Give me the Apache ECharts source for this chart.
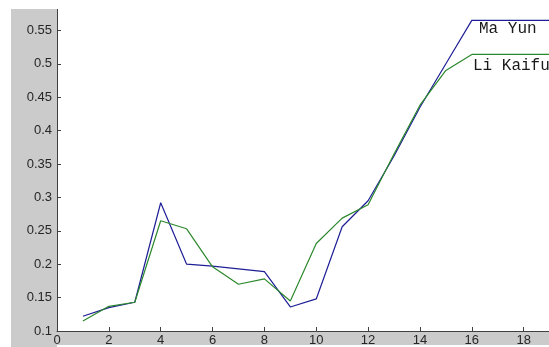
<!DOCTYPE html>
<html>
<head>
<meta charset="utf-8">
<script src="https://cdn.jsdelivr.net/npm/echarts@6/dist/echarts.min.js"></script>
<style>
  html, body { margin: 0; padding: 0; background: #ffffff; overflow: hidden; width: 549px; height: 347px; }
  /* canvas is a little larger than the window so the axes run past the right and top edges */
  #chart { position: absolute; left: 0; top: -10px; width: 600px; height: 357px; }
</style>
</head>
<body>
<div id="chart"></div>
<script>
// Step index along the x axis
const steps = [1, 2, 3, 4, 5, 6, 7, 8, 9, 10, 11, 12, 13, 14, 15, 16, 17, 18, 19, 20];

// Two series of values per step
const maYun = [0.122, 0.135, 0.143, 0.292, 0.200, 0.197, 0.193, 0.189, 0.136, 0.148,
               0.256, 0.295, 0.362, 0.435, 0.500, 0.565, 0.565, 0.565, 0.565, 0.565];
const liKaifu = [0.115, 0.137, 0.143, 0.265, 0.253, 0.196, 0.170, 0.178, 0.145, 0.231,
                 0.269, 0.289, 0.365, 0.438, 0.490, 0.514, 0.514, 0.514, 0.514, 0.514];

const seriesNames = ['Ma Yun', 'Li Kaifu'];

const OFF = 10; // vertical offset of the canvas above the window

const chart = echarts.init(document.getElementById('chart'), null, { renderer: 'canvas' });

const axisFont = { fontFamily: '"Liberation Sans", Arial, sans-serif', fontSize: 13, color: '#262626' };

chart.setOption({
  animation: false,
  backgroundColor: '#ffffff',
  grid: { left: 57, top: OFF - 3, width: 518.5, height: 334, containLabel: false },
  xAxis: {
    type: 'value',
    min: 0, max: 20, interval: 2,
    axisLine: { show: true, lineStyle: { color: '#404040', width: 1 } },
    axisTick: { show: true, inside: true, length: 4, lineStyle: { color: '#404040' } },
    axisLabel: Object.assign({ margin: 3 }, axisFont),
    splitLine: { show: false }
  },
  yAxis: {
    type: 'value',
    min: 0.1, max: 0.6, interval: 0.05,
    axisLine: { show: true, lineStyle: { color: '#404040', width: 1 } },
    axisTick: { show: true, inside: true, length: 4, lineStyle: { color: '#404040' } },
    axisLabel: Object.assign({ margin: 5, formatter: v => String(+v.toFixed(2)) }, axisFont),
    splitLine: { show: false }
  },
  graphic: [
    { type: 'rect', z: -10, silent: true, shape: { x: 11, y: OFF + 9, width: 46, height: 338 }, style: { fill: '#cbcbcb' } },
    { type: 'rect', z: -10, silent: true, shape: { x: 11, y: OFF + 331, width: 600, height: 14 }, style: { fill: '#cbcbcb' } },
    { type: 'rect', z: 100, silent: true, shape: { x: 0, y: 0, width: 600, height: OFF + 9 }, style: { fill: '#ffffff' } },
    { type: 'text', z: 101, left: 479, top: OFF + 21,
      style: { text: seriesNames[0], font: '16px "Liberation Mono", "DejaVu Sans Mono", monospace', fill: '#1a1a1a' } },
    { type: 'text', z: 101, left: 473, top: OFF + 58,
      style: { text: seriesNames[1], font: '16px "Liberation Mono", "DejaVu Sans Mono", monospace', fill: '#1a1a1a' } }
  ],
  series: [
    {
      name: seriesNames[0], type: 'line', showSymbol: false,
      data: steps.map((s, i) => [s, maYun[i]]),
      lineStyle: { color: '#1e1e96', width: 1.2 }
    },
    {
      name: seriesNames[1], type: 'line', showSymbol: false,
      data: steps.map((s, i) => [s, liKaifu[i]]),
      lineStyle: { color: '#2c882c', width: 1.2 }
    }
  ]
});
</script>
</body>
</html>
